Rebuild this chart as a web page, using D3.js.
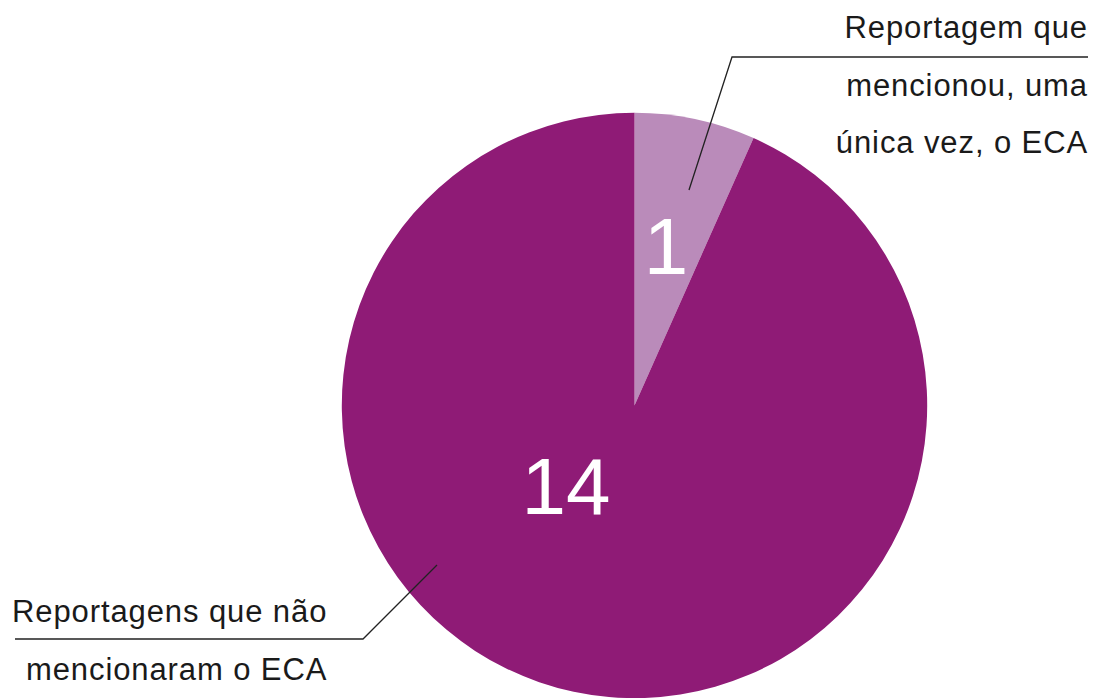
<!DOCTYPE html>
<html>
<head>
<meta charset="utf-8">
<script src="https://cdn.jsdelivr.net/npm/d3@7"></script>
<style>
    body { margin: 0; background: #fff; }
    svg { display: block; }
</style>
</head>
<body>
<div class="vis-pie"></div>
<script>
// data
const categories = ["Reportagem que mencionou, uma única vez, o ECA", "Reportagens que não mencionaram o ECA"];
const values = [1, 14];
const labelLines = [
    ["Reportagem que", "mencionou, uma", "única vez, o ECA"],
    ["Reportagens que não", "mencionaram o ECA"]
];

const config = {
    "slice-colors": ["#ba8bba", "#8f1b76"],
    "label-color": "#1a1a1a",
    "font": "'Liberation Sans', Arial, Helvetica, sans-serif"
};

const width = 1104, height = 698;
const cx = 634.5, cy = 405.4, radius = 292.7;

const svg = d3.select(".vis-pie")
    .append("svg")
    .attr("width", width)
    .attr("height", height);

const g = svg.append("g")
    .attr("transform", "translate(" + cx + "," + cy + ")");

const pie = d3.pie().sort(null).value(d => d);
const arcs = pie(values);

const arc = d3.arc().innerRadius(0).outerRadius(radius);

g.selectAll(".slice")
    .data(arcs)
    .enter()
    .append("path")
    .attr("class", "slice")
    .attr("d", arc)
    .attr("fill", (d, i) => config["slice-colors"][i]);

// value labels inside slices (angle offset from slice middle, radius)
const valuePos = [
    { da: -0.015, r: 163 },
    { da: 0.5, r: 105 }
];
g.selectAll(".value")
    .data(arcs)
    .enter()
    .append("text")
    .attr("class", "value")
    .attr("transform", (d, i) => {
        let a = (d.startAngle + d.endAngle) / 2 + valuePos[i].da;
        let x = valuePos[i].r * Math.sin(a);
        let y = -valuePos[i].r * Math.cos(a);
        return "translate(" + x + "," + y + ")";
    })
    .attr("dy", "0.36em")
    .attr("text-anchor", "middle")
    .attr("fill", "#fff")
    .style("font-family", config.font)
    .style("font-size", "80px")
    .text(d => d.data);

// leader lines
const leaders = [
    [[689, 190], [732, 57], [1088, 57]],
    [[437, 565], [363, 639], [15, 639]]
];
svg.selectAll(".leader")
    .data(leaders)
    .enter()
    .append("path")
    .attr("class", "leader")
    .attr("d", d3.line())
    .attr("fill", "none")
    .attr("stroke", "#222")
    .attr("stroke-width", 1.3);

// category labels
const labelBlocks = [
    { x: 1088, y: 38, anchor: "end" },
    { x: 12, y: 622, anchor: "start" }
];
const lineGap = 57.5;
labelLines.forEach((lines, i) => {
    const b = labelBlocks[i];
    svg.append("g")
        .selectAll("text")
        .data(lines)
        .enter()
        .append("text")
        .attr("x", b.x)
        .attr("y", (d, j) => b.y + j * lineGap)
        .attr("text-anchor", b.anchor)
        .attr("fill", config["label-color"])
        .style("font-family", config.font)
        .style("font-size", "31px")
        .style("letter-spacing", "0.9px")
        .text(d => d);
});

// second bottom line starts slightly indented
svg.selectAll("text").filter(function () { return d3.select(this).text() === "mencionaram o ECA"; })
    .attr("x", 26);
</script>
</body>
</html>
